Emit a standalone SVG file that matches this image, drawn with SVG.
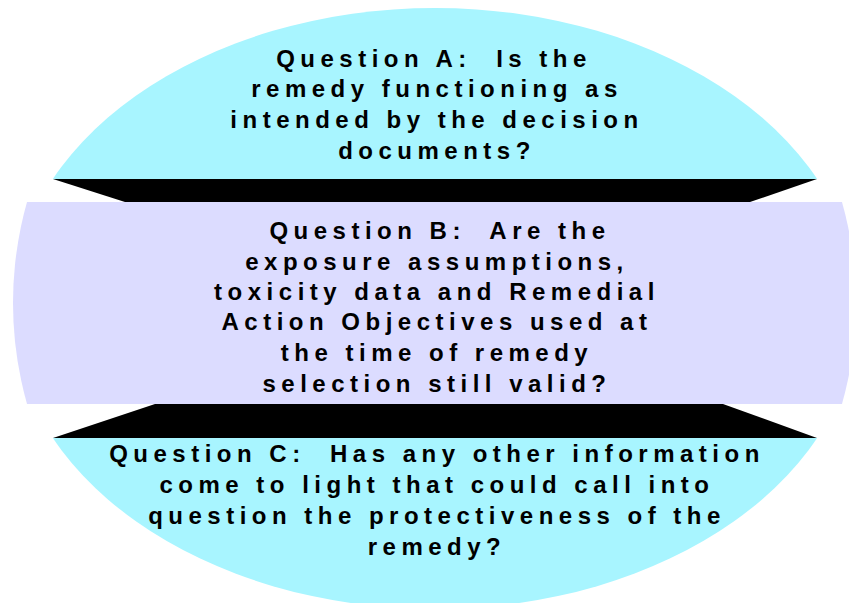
<svg xmlns="http://www.w3.org/2000/svg" width="849" height="603" viewBox="0 0 849 603">
<style>
.cyan{fill:#a8f5ff}
.lav{fill:#dcdcff}
.band{fill:#000}
.t{font-family:"Liberation Sans",Arial,sans-serif;font-weight:bold;font-size:24px;letter-spacing:5.5px;fill:#000;text-anchor:middle;white-space:pre}
</style>
<defs>
<clipPath id="clipTop"><rect x="0" y="0" width="849" height="179"/></clipPath>
<clipPath id="clipMid"><rect x="0" y="202" width="849" height="202"/></clipPath>
<clipPath id="clipBot"><rect x="0" y="438" width="849" height="165"/></clipPath>
</defs>
<g id="questionA">
<ellipse class="cyan" cx="435" cy="308.5" rx="423.5" ry="300.5" clip-path="url(#clipTop)"/>
<text class="t" x="434" y="67" xml:space="preserve">Question A:  Is the</text>
<text class="t" x="437" y="97">remedy functioning as</text>
<text class="t" x="437" y="128">intended by the decision</text>
<text class="t" x="437" y="159">documents?</text>
</g>
<g id="bandTop">
<polygon class="band" points="53,179 817,179 750,202 125,202"/>
</g>
<g id="questionB">
<ellipse class="lav" cx="434.5" cy="303" rx="421.5" ry="395" clip-path="url(#clipMid)"/>
<text class="t" x="440" y="239" xml:space="preserve">Question B:  Are the</text>
<text class="t" x="437" y="270">exposure assumptions,</text>
<text class="t" x="437" y="300">toxicity data and Remedial</text>
<text class="t" x="437" y="330">Action Objectives used at</text>
<text class="t" x="437" y="361">the time of remedy</text>
<text class="t" x="437" y="392">selection still valid?</text>
</g>
<g id="bandBottom">
<polygon class="band" points="155,404 723,404 817,438 53,438"/>
</g>
<g id="questionC">
<ellipse class="cyan" cx="435" cy="308.5" rx="423.5" ry="300.5" clip-path="url(#clipBot)"/>
<text class="t" x="437" y="462" xml:space="preserve">Question C:  Has any other information</text>
<text class="t" x="437" y="493">come to light that could call into</text>
<text class="t" x="437" y="524">question the protectiveness of the</text>
<text class="t" x="437" y="555">remedy?</text>
</g>
<g id="connectors"/>
</svg>
